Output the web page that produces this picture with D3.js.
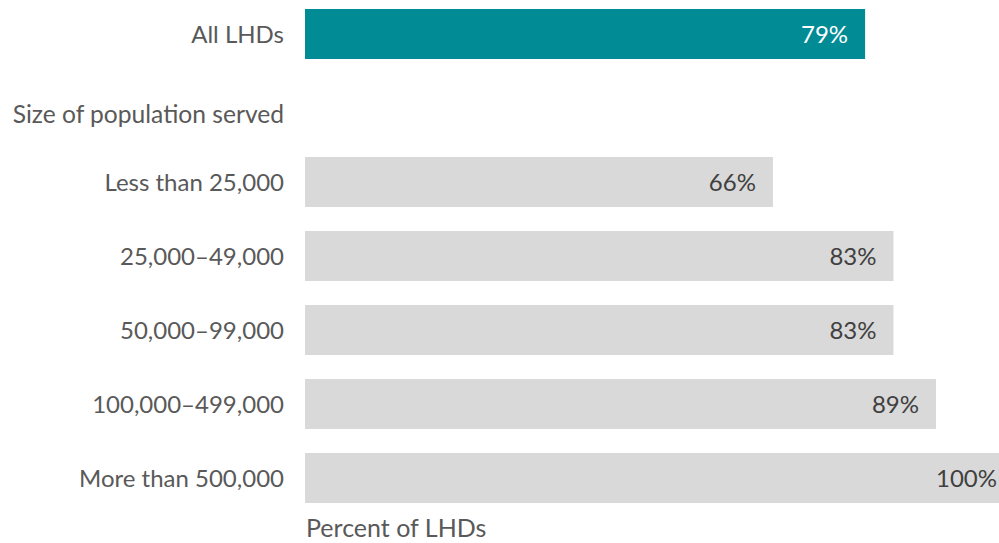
<!DOCTYPE html>
<html>
<head>
<meta charset="utf-8">
<script src="https://cdn.jsdelivr.net/npm/d3@7"></script>
<style>
  body { margin: 0; background: #fff; }
  svg { display: block; font-family: "Lato", "Open Sans", sans-serif; }
  .cat-label { fill: #595959; font-size: 24px; }
  .cat-label.header { font-size: 24.6px; }
  .val-label { fill: #404040; font-size: 24px; }
  .val-label.highlight { fill: #fff; }
  .axis-title { fill: #595959; font-size: 25px; }
</style>
</head>
<body>
<div id="bar-chart"></div>
<script>
// Data
var categories = ["All LHDs", "Less than 25,000", "25,000–49,000", "50,000–99,000", "100,000–499,000", "More than 500,000"];
var values = [79, 66, 83, 83, 89, 100];
var groupHeader = "Size of population served";
var axisTitle = "Percent of LHDs";

var render = function() {
  var width = 999;
  var height = 543;
  var labelRight = 284;
  var barLeft = 305;
  var step = 74;
  var gap = 24;

  var containerElement = d3.select("#bar-chart");
  containerElement.html("");

  var svg = containerElement
    .append("svg")
    .attr("width", width)
    .attr("height", height);

  // rows: first bar, a header slot, then the population groups
  var rows = [categories[0], groupHeader].concat(categories.slice(1));

  var yScale = d3
    .scaleBand()
    .domain(rows)
    .range([9, 9 + step * rows.length - gap])
    .paddingInner(gap / step)
    .paddingOuter(0);

  var xScale = d3
    .scaleLinear()
    .domain([0, 100])
    .range([barLeft, 1014]);

  var data = categories.map((c, i) => ({ label: c, value: values[i], first: i === 0 }));

  // bars
  svg
    .append("g")
    .attr("class", "bars")
    .selectAll("rect")
    .data(data)
    .enter()
    .append("rect")
    .attr("x", xScale(0))
    .attr("y", d => yScale(d.label))
    .attr("width", d => xScale(d.value) - xScale(0))
    .attr("height", yScale.bandwidth())
    .attr("fill", d => (d.first ? "#008b95" : "#d9d9d9"));

  // category labels
  svg
    .append("g")
    .selectAll("text")
    .data(data)
    .enter()
    .append("text")
    .attr("class", "cat-label")
    .attr("x", labelRight)
    .attr("y", d => yScale(d.label) + yScale.bandwidth() / 2 + 9)
    .attr("text-anchor", "end")
    .text(d => d.label);

  // group header
  svg
    .append("text")
    .attr("class", "cat-label header")
    .attr("x", labelRight)
    .attr("y", yScale(groupHeader) + yScale.bandwidth() / 2 + 15)
    .attr("text-anchor", "end")
    .text(groupHeader);

  // value labels
  svg
    .append("g")
    .selectAll("text")
    .data(data)
    .enter()
    .append("text")
    .attr("class", d => "val-label" + (d.first ? " highlight" : ""))
    .attr("x", d => xScale(d.value) - 17)
    .attr("y", d => yScale(d.label) + yScale.bandwidth() / 2 + 9)
    .attr("text-anchor", "end")
    .text(d => d.value + "%");

  // axis title
  svg
    .append("text")
    .attr("class", "axis-title")
    .attr("x", barLeft + 1)
    .attr("y", 537)
    .text(axisTitle);
};

window.onload = render;
</script>
</body>
</html>
